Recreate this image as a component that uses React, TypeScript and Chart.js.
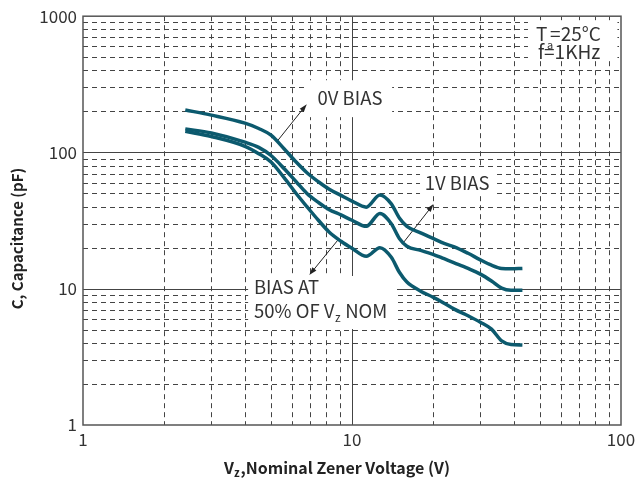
import React, { useEffect, useRef } from "react";
import { Chart, registerables } from "chart.js";

Chart.register(...registerables);

// ---- data ----
const voltages = [2.4, 3, 4, 4.5, 5, 5.6, 6.2, 6.8, 7.5, 8.2, 9.1, 10, 11.3, 12.7, 14, 15, 16, 18, 20, 22, 24, 27, 30, 33, 36, 39, 43];
const cap0V = [205, 188, 164, 150, 134, 106, 85, 71, 61, 54, 48.4, 44, 39.7, 48.8, 42, 33, 28.7, 25.7, 23.4, 21.5, 20.3, 18.2, 16.3, 14.9, 14.1, 14, 14.1];
const cap1V = [149, 139, 119, 109, 95, 76, 61, 50, 43, 38.2, 34.8, 31.8, 28.7, 35.7, 30, 23.4, 20.5, 19.1, 17.9, 16.6, 15.5, 14.1, 12.8, 11.4, 10.1, 9.75, 9.75];
const cap50 = [143, 131, 111, 98, 85, 65, 50, 40, 31.8, 26.2, 22.3, 19.8, 17.3, 20, 17, 13.2, 11.2, 9.6, 8.67, 7.83, 7.08, 6.34, 5.68, 5.05, 4.14, 3.89, 3.86];

const xTickValues = [1, 10, 100];
const yTickValues = [1, 10, 100, 1000];
const xMinorGrid = [2, 3, 4, 5, 6, 7, 8, 9, 20, 30, 40, 50, 60, 70, 80, 90];
const xMajorGrid = [10];
const yMinorGrid = [2, 3, 4, 5, 6, 7, 8, 9, 20, 30, 40, 50, 60, 70, 80, 90, 200, 300, 400, 500, 600, 700, 800, 900];
const yMajorGrid = [10, 100];

const xTitle = ["V", "z", ",Nominal Zener Voltage (V)"];
const yTitle = "C, Capacitance (pF)";

// annotation boxes (data coords): [x1, x2, yTop, yBottom]
const labelBoxes = [
  [6.86, 14.1, 339, 181.6],
  [17.9, 34.6, 76.8, 49.5],
  [4.11, 14.7, 12.4, 5.06],
  [45.1, 97, 935, 476],
];
// arrows (data coords): [tailX, tailY, headX, headY]
const arrows = [
  [5.25, 119.7, 6.79, 226],
  [15.5, 21.7, 20.1, 41.8],
  [8.9, 23, 6.94, 12.6],
];

const LINE_COLOR = "#0c5a6e";
const TEXT_COLOR = "#333333";
const GRID_COLOR = "#444444";
const FONT = '"Noto Sans CJK SC", "Noto Sans", sans-serif';

const decorPlugin = {
  id: "decor",
  beforeDatasetsDraw(chart: any) {
    const { ctx, chartArea: a, scales } = chart;
    const xs = scales.x;
    const ys = scales.y;
    const X = (v: number) => xs.getPixelForValue(v);
    const Y = (v: number) => ys.getPixelForValue(v);
    ctx.save();
    // minor dashed grid
    ctx.strokeStyle = GRID_COLOR;
    ctx.lineWidth = 1;
    ctx.setLineDash([5, 4]);
    for (const v of xMinorGrid) {
      const p = Math.round(X(v)) + 0.5;
      ctx.beginPath();
      ctx.moveTo(p, a.top);
      ctx.lineTo(p, a.bottom);
      ctx.stroke();
    }
    for (const v of yMinorGrid) {
      const p = Math.round(Y(v)) + 0.5;
      ctx.beginPath();
      ctx.moveTo(a.left, p);
      ctx.lineTo(a.right, p);
      ctx.stroke();
    }
    // major solid grid
    ctx.setLineDash([]);
    for (const v of xMajorGrid) {
      const p = Math.round(X(v)) + 0.5;
      ctx.beginPath();
      ctx.moveTo(p, a.top);
      ctx.lineTo(p, a.bottom);
      ctx.stroke();
    }
    for (const v of yMajorGrid) {
      const p = Math.round(Y(v)) + 0.5;
      ctx.beginPath();
      ctx.moveTo(a.left, p);
      ctx.lineTo(a.right, p);
      ctx.stroke();
    }
    // white label boxes
    ctx.fillStyle = "#ffffff";
    for (const b of labelBoxes) {
      const x1 = X(b[0]), x2 = X(b[1]), y1 = Y(b[2]), y2 = Y(b[3]);
      ctx.fillRect(x1, y1, x2 - x1, y2 - y1);
    }
    // border
    ctx.strokeStyle = "#555555";
    ctx.lineWidth = 1.5;
    ctx.strokeRect(a.left, a.top, a.right - a.left, a.bottom - a.top);

    // arrows
    ctx.strokeStyle = "#222222";
    ctx.fillStyle = "#222222";
    ctx.lineWidth = 1;
    for (const ar of arrows) {
      const tx = X(ar[0]), ty = Y(ar[1]), hx = X(ar[2]), hy = Y(ar[3]);
      const ang = Math.atan2(hy - ty, hx - tx);
      ctx.beginPath();
      ctx.moveTo(tx, ty);
      ctx.lineTo(hx - 4 * Math.cos(ang), hy - 4 * Math.sin(ang));
      ctx.stroke();
      const L = 8, W = 2.6;
      ctx.beginPath();
      ctx.moveTo(hx, hy);
      ctx.lineTo(hx - L * Math.cos(ang) + W * Math.sin(ang), hy - L * Math.sin(ang) - W * Math.cos(ang));
      ctx.lineTo(hx - L * Math.cos(ang) - W * Math.sin(ang), hy - L * Math.sin(ang) + W * Math.cos(ang));
      ctx.closePath();
      ctx.fill();
    }

    // texts
    ctx.fillStyle = TEXT_COLOR;
    ctx.textBaseline = "middle";
    const F = `18.5px ${FONT}`;
    ctx.font = F;
    ctx.textAlign = "center";
    ctx.fillText("0V BIAS", X(9.83), Y(250));
    ctx.fillText("1V BIAS", X(24.6), Y(59.6));
    ctx.textAlign = "left";
    ctx.fillText("BIAS AT", X(4.32), Y(10.3));
    // 50% OF Vz NOM
    let px = X(4.32);
    const py = Y(6.86);
    const t1 = "50% OF V";
    ctx.fillText(t1, px, py);
    px += ctx.measureText(t1).width;
    ctx.font = `12px ${FONT}`;
    ctx.fillText("z", px + 0.5, py + 6);
    px += ctx.measureText("z").width + 1;
    ctx.font = F;
    ctx.fillText(" NOM", px, py);
    // Ta / f
    ctx.font = `19px ${FONT}`;
    ctx.fillText("T", X(48.3), Y(738));
    ctx.fillText("=25°C", X(54.5), Y(738));
    ctx.fillText("f=1KHz", X(49.1), Y(545));
    ctx.font = `11px ${FONT}`;
    ctx.fillText("a", X(53.1), Y(618));

    ctx.restore();
  },
  afterDraw(chart: any) {
    const { ctx, chartArea: a } = chart;
    ctx.save();
    ctx.fillStyle = "#222222";
    ctx.textBaseline = "middle";
    // x title with subscript
    const big = `600 16px ${FONT}`;
    const small = `600 11px ${FONT}`;
    ctx.font = big;
    const w1 = ctx.measureText(xTitle[0]).width;
    const w3 = ctx.measureText(xTitle[2]).width;
    ctx.font = small;
    const w2 = ctx.measureText(xTitle[1]).width + 1;
    const total = w1 + w2 + w3;
    let x = (a.left + a.right) / 2 - total / 2 - 15;
    const y = 468;
    ctx.textAlign = "left";
    ctx.font = big;
    ctx.fillText(xTitle[0], x, y);
    x += w1;
    ctx.font = small;
    ctx.fillText(xTitle[1], x, y + 5);
    x += w2;
    ctx.font = big;
    ctx.fillText(xTitle[2], x, y);
    // y title
    ctx.translate(17, (a.top + a.bottom) / 2 + 18);
    ctx.rotate(-Math.PI / 2);
    ctx.textAlign = "center";
    ctx.font = `600 15px ${FONT}`;
    ctx.fillText(yTitle, 0, 0);
    ctx.restore();
  },
};

export default function App() {
  const ref = useRef<HTMLCanvasElement | null>(null);
  useEffect(() => {
    if (!ref.current) return;
    const mk = (d: number[]) => voltages.map((v, i) => ({ x: v, y: d[i] }));
    const ds = (label: string, d: number[]) => ({
      label,
      data: mk(d),
      borderColor: LINE_COLOR,
      borderWidth: 3.5,
      pointRadius: 0,
      fill: false,
      cubicInterpolationMode: "monotone" as const,
    });
    const tickFont = { family: FONT, size: 17 };
    const chart = new Chart(ref.current, {
      type: "line",
      data: {
        datasets: [ds("0V BIAS", cap0V), ds("1V BIAS", cap1V), ds("BIAS AT 50% OF Vz NOM", cap50)],
      },
      options: {
        responsive: false,
        animation: false,
        layout: { padding: { left: 0, right: 19, top: 16, bottom: 0 } },
        plugins: { legend: { display: false }, tooltip: { enabled: false } },
        scales: {
          x: {
            type: "logarithmic",
            position: "bottom",
            min: 1,
            max: 100,
            afterBuildTicks: (s: any) => {
              s.ticks = xTickValues.map((v) => ({ value: v }));
            },
            afterFit: (s: any) => {
              s.height = 59;
            },
            ticks: {
              callback: (v: any) => String(v),
              font: tickFont,
              color: TEXT_COLOR,
              padding: 4,
              maxRotation: 0,
              autoSkip: false,
            },
            grid: { display: false, drawTicks: false },
            border: { display: false },
          },
          y: {
            type: "logarithmic",
            position: "left",
            min: 1,
            max: 1000,
            afterBuildTicks: (s: any) => {
              s.ticks = yTickValues.map((v) => ({ value: v }));
            },
            afterFit: (s: any) => {
              s.width = 83;
            },
            ticks: {
              callback: (v: any) => String(v),
              font: tickFont,
              color: TEXT_COLOR,
              padding: 6,
              autoSkip: false,
            },
            grid: { display: false, drawTicks: false },
            border: { display: false },
          },
        },
      },
      plugins: [decorPlugin],
    });
    return () => chart.destroy();
  }, []);
  return (
    <div style={{ position: "absolute", left: 0, top: 0, width: 640, height: 484, background: "#fff" }}>
      <canvas ref={ref} width={640} height={484} style={{ display: "block" }} />
    </div>
  );
}
